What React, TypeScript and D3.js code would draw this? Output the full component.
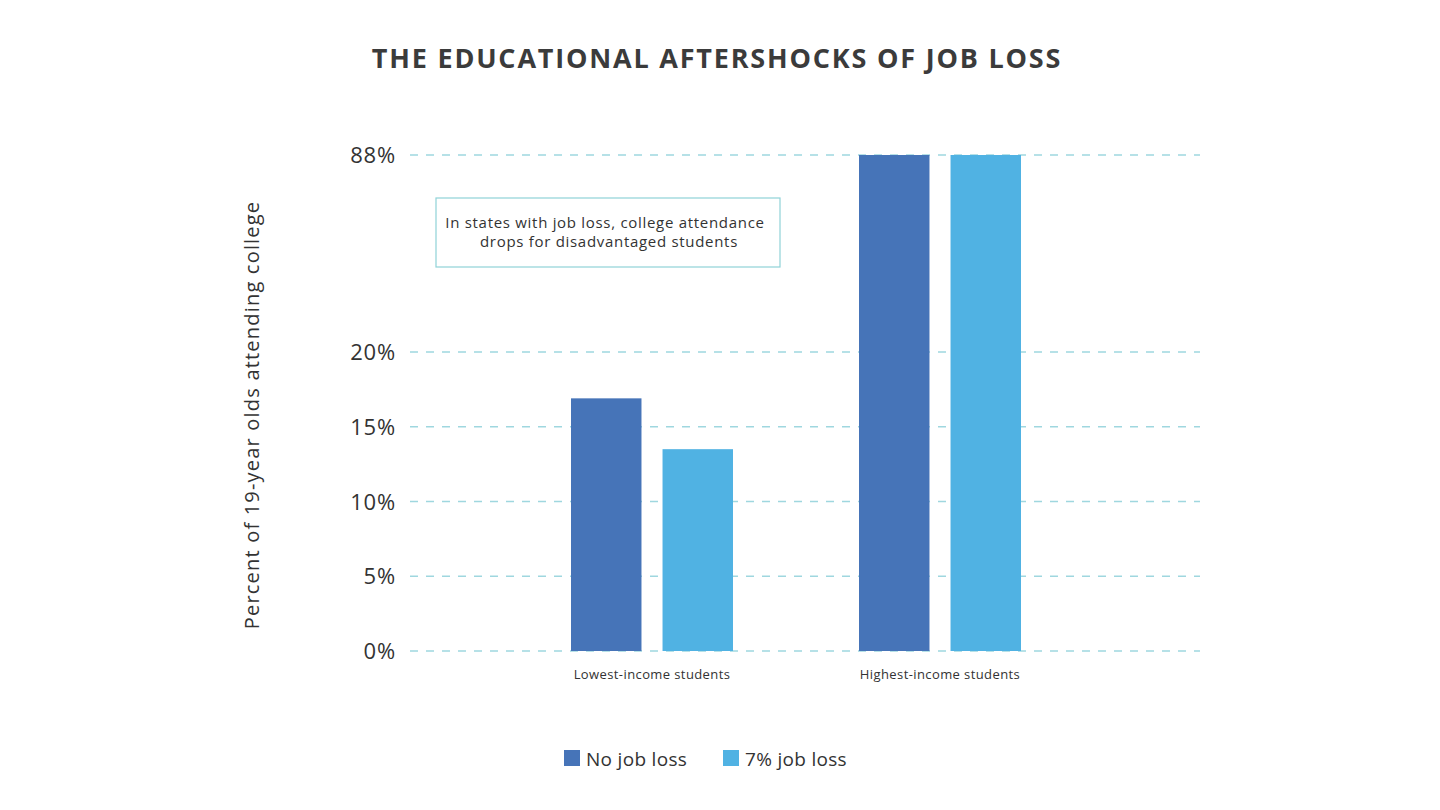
import React from 'react';
import * as d3 from 'd3';

const categories = ['Lowest-income students', 'Highest-income students'];
const seriesNames = ['No job loss', '7% job loss'];
const noJobLoss = [16.9, 88];
const jobLoss7 = [13.5, 88];
const yTicks = [0, 5, 10, 15, 20, 88];

const W = 1440;
const H = 810;
const colors = ['#4674b8', '#50b2e3'];
const textColor = '#333333';
const font = "'Open Sans', 'DejaVu Sans', sans-serif";

const App: React.FC = () => {
  // broken axis: 0-20 linear, then jump to 88
  const y = d3.scaleLinear().domain([0, 20, 88]).range([651, 352, 155]);
  const xGroup = d3.scaleBand<string>().domain(categories).range([508, 1084]);
  const xInner = d3.scaleBand<string>().domain(seriesNames).range([-81, 81]).paddingInner(0.23);
  const values = [noJobLoss, jobLoss7];

  return (
    <svg
      width={W}
      height={H}
      viewBox={`0 0 ${W} ${H}`}
      style={{ position: 'absolute', left: 0, top: 0, background: '#fff' }}
    >
      <text
        x={717}
        y={68}
        textAnchor="middle"
        fontFamily={font}
        fontWeight={700}
        fontSize={27}
        letterSpacing={1.8}
        fill="#3b3b3b"
      >
        THE EDUCATIONAL AFTERSHOCKS OF JOB LOSS
      </text>

      {/* grid + tick labels */}
      {yTicks.map((t) => (
        <g key={t}>
          <line
            x1={410}
            x2={1200}
            y1={y(t)}
            y2={y(t)}
            stroke="#9fd7df"
            strokeWidth={1.3}
            strokeDasharray="8,8"
          />
          <text
            x={396}
            y={y(t) + 8}
            textAnchor="end"
            fontFamily={font}
            fontSize={22}
            letterSpacing={0.8}
            fill={textColor}
          >
            {t}%
          </text>
        </g>
      ))}

      <text
        transform={`translate(259,415) rotate(-90)`}
        textAnchor="middle"
        fontFamily={font}
        fontSize={20}
        letterSpacing={1.2}
        fill={textColor}
      >
        Percent of 19-year olds attending college
      </text>

      {/* bars */}
      {categories.map((c, ci) =>
        seriesNames.map((s, si) => {
          const v = values[si][ci];
          const x0 = (xGroup(c) ?? 0) + xGroup.bandwidth() / 2 + (xInner(s) ?? 0);
          return (
            <rect
              key={c + s}
              x={x0}
              y={y(v)}
              width={xInner.bandwidth()}
              height={y(0) - y(v)}
              fill={colors[si]}
            />
          );
        })
      )}

      {categories.map((c) => (
        <text
          key={c}
          x={(xGroup(c) ?? 0) + xGroup.bandwidth() / 2}
          y={679}
          textAnchor="middle"
          fontFamily={font}
          fontSize={13}
          letterSpacing={0.4}
          fill={textColor}
        >
          {c}
        </text>
      ))}

      {/* annotation */}
      <rect x={436} y={198} width={344} height={69} fill="none" stroke="#8fd3d8" strokeWidth={1.2} />
      <text textAnchor="middle" fontFamily={font} fontSize={15} letterSpacing={0.7} fill={textColor}>
        <tspan x={605} y={228}>In states with job loss, college attendance</tspan>
        <tspan x={609} y={247}>drops for disadvantaged students</tspan>
      </text>

      {/* legend */}
      {seriesNames.map((s, i) => {
        const lx = [564, 723][i];
        return (
          <g key={s}>
            <rect x={lx} y={750} width={16} height={16} fill={colors[i]} />
            <text x={lx + 22} y={766} fontFamily={font} fontSize={19} letterSpacing={0.3} fill={textColor}>
              {s}
            </text>
          </g>
        );
      })}
    </svg>
  );
};

export default App;
